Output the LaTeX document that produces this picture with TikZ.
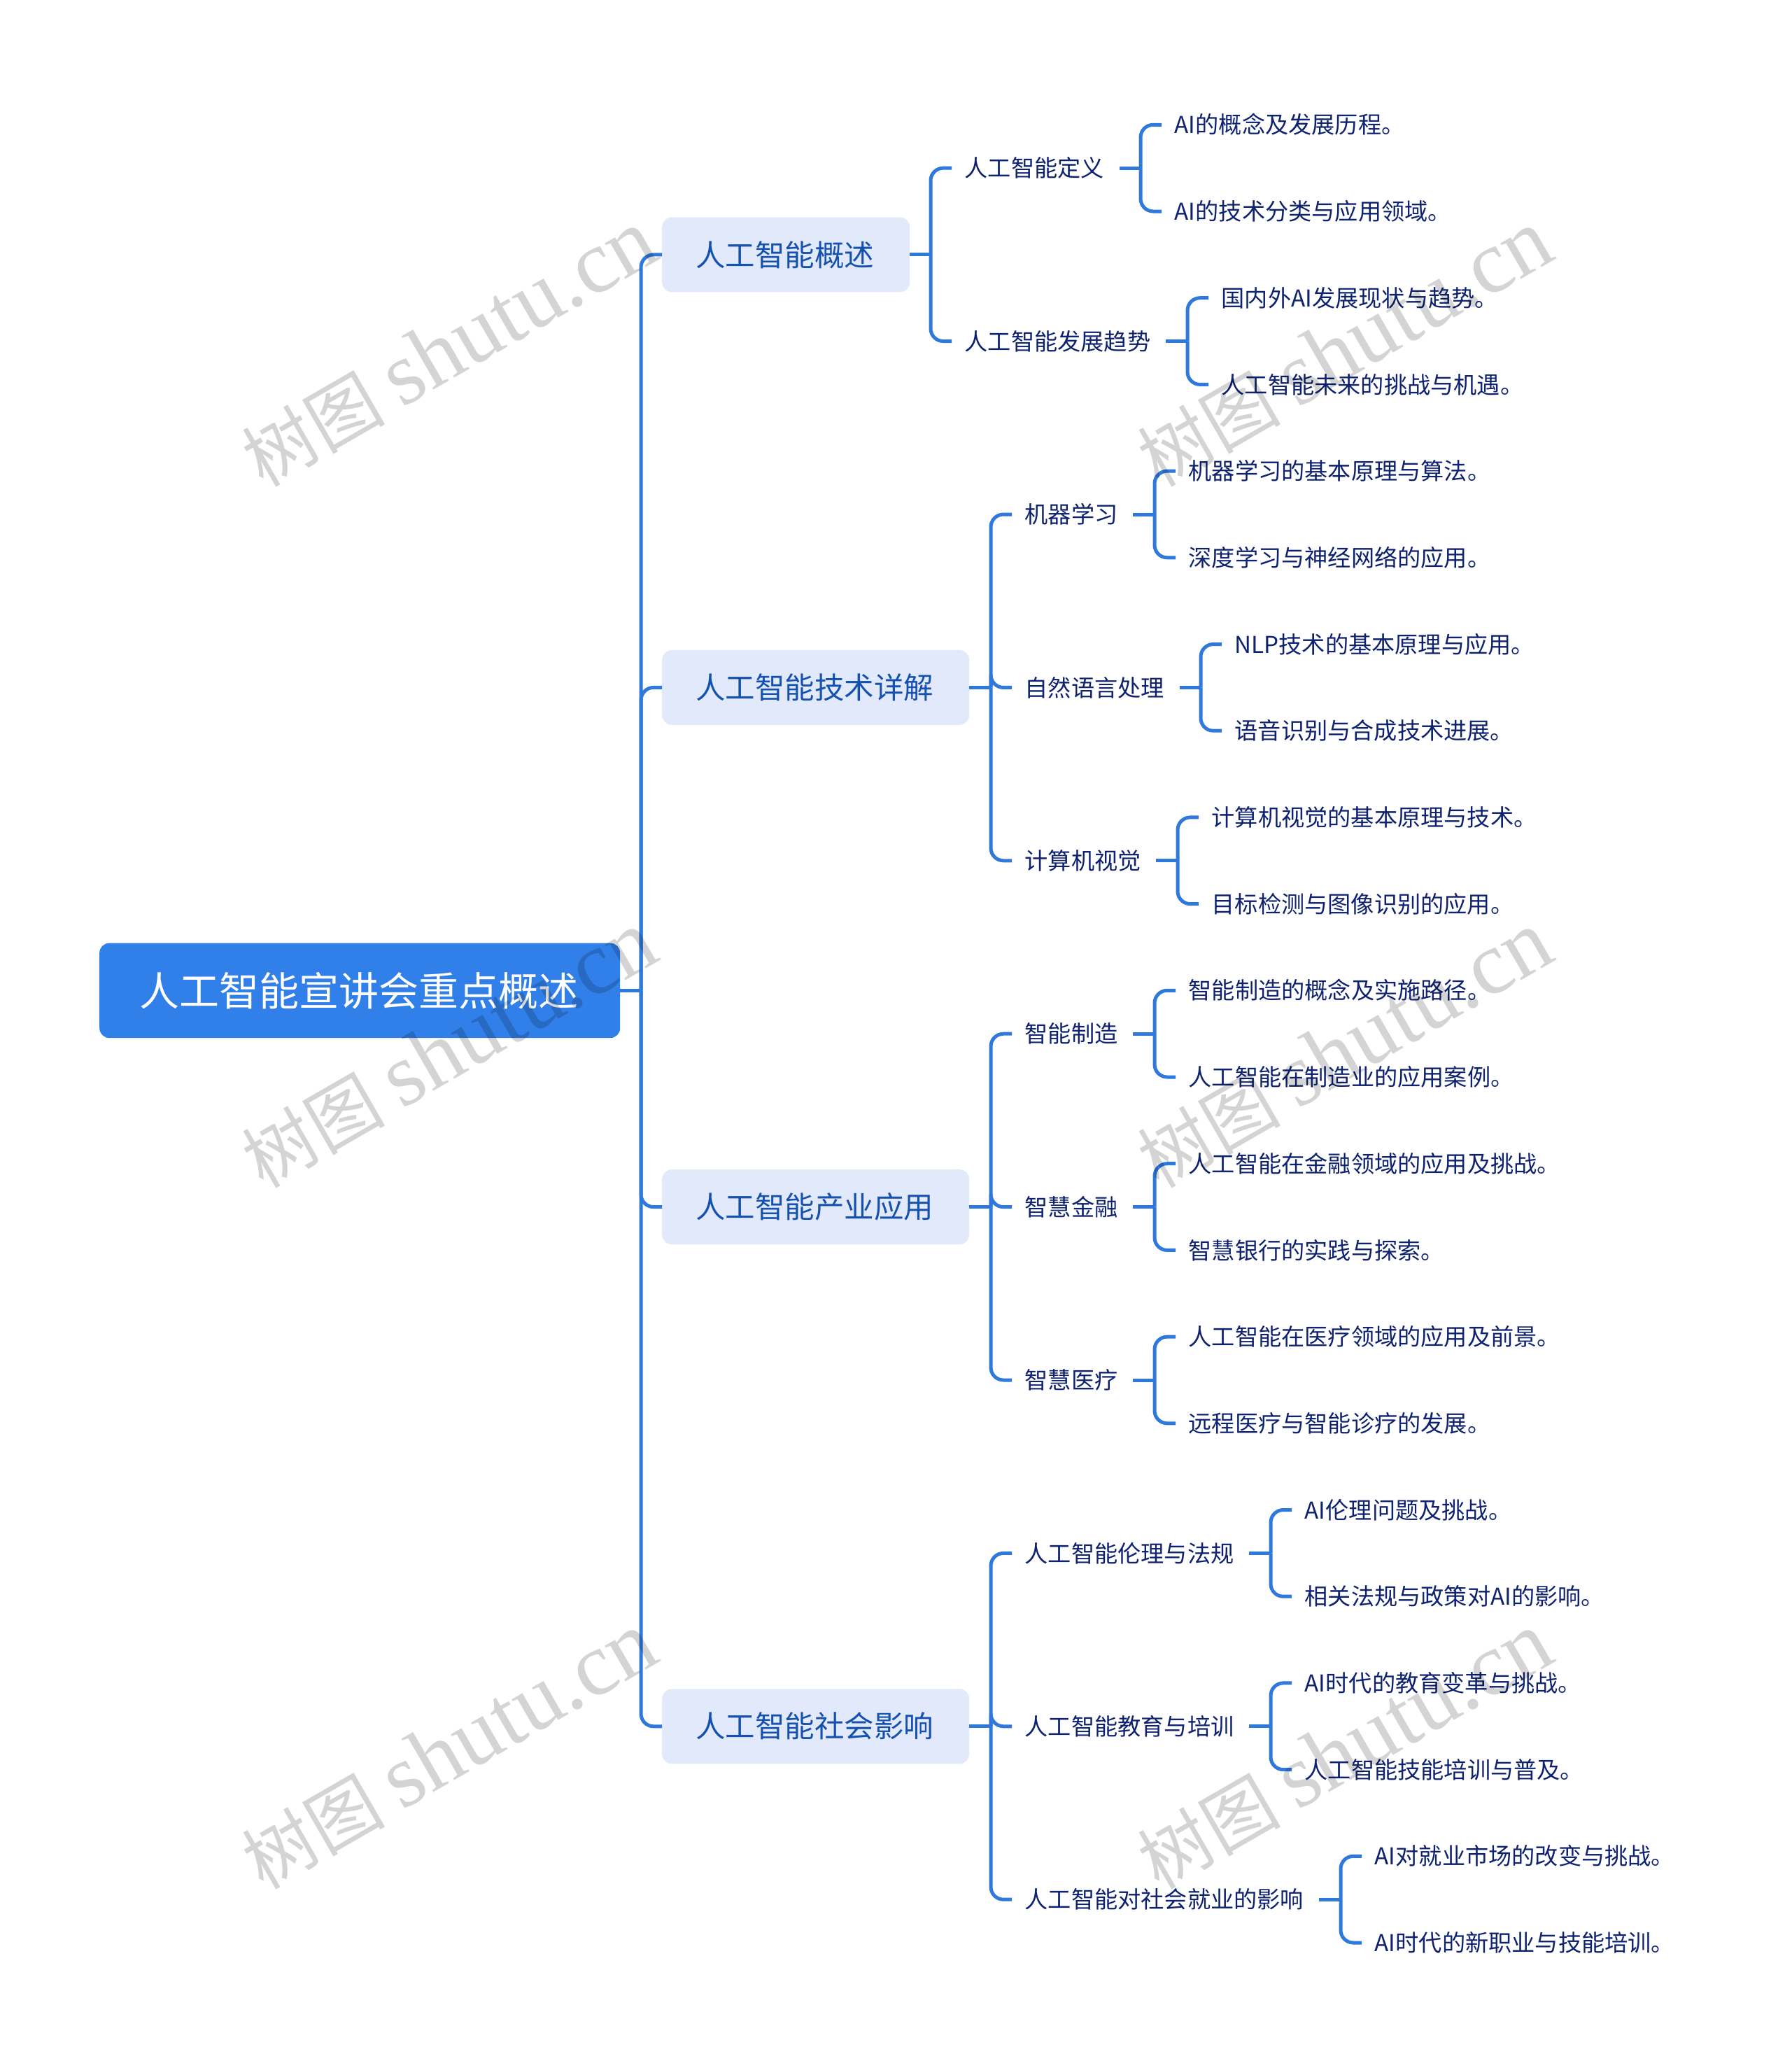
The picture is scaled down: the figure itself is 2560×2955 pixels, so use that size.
\documentclass[tikz,border=0pt]{standalone}
\usepackage{fontspec}
\setmainfont{Noto Sans CJK SC}
\newfontfamily\wmcjk{Noto Sans CJK SC}
\newfontfamily\wmlat{Liberation Serif}
\definecolor{linkc}{HTML}{2F78DC}
\definecolor{rootc}{HTML}{3180EA}
\definecolor{boxc}{HTML}{E2E9FB}
\definecolor{onec}{HTML}{1552B0}
\definecolor{twoc}{HTML}{0E2270}
\tikzset{
  nudged/.style={execute at begin node={\hspace{-1.5pt}},execute at end node={\hspace{1.5pt}}},
  rootbox/.style={nudged,anchor=west,fill=rootc,text=white,rounded corners=14pt,inner xsep=58.5pt,inner ysep=0pt,minimum height=135.6pt,text height=50.2pt,text depth=6.8pt,font=\fontsize{57}{57}\selectfont},
  onebox/.style={nudged,anchor=west,fill=boxc,text=onec,rounded corners=14pt,inner xsep=49.5pt,inner ysep=0pt,minimum height=107pt,text height=37.4pt,text depth=5.1pt,font=\fontsize{42.5}{42.5}\selectfont},
  twotext/.style={nudged,anchor=west,text=twoc,inner xsep=20pt,inner ysep=0pt,text height=29.2pt,text depth=4pt,font=\fontsize{33.2}{33.2}\selectfont},
  linkline/.style={draw=linkc,line width=5pt},
  wmark/.style={anchor=base east,rotate=30,inner sep=0pt,text=black,text opacity=.17},
}
\newcommand{\lnk}[2]{%
  \draw[linkline] (#1.east) -- ([xshift=-30pt]#1.east -| #2.west);
  \draw[linkline,rounded corners=18pt] ([xshift=-30pt]#1.east -| #2.west) |- (#2.west);
}
\newcommand{\wmtext}{{\wmcjk\fontsize{102}{102}\selectfont 树图}\hspace{24pt}{\wmlat\fontsize{128}{128}\selectfont shutu.cn}}
\begin{document}
\begin{tikzpicture}[x=1pt,y=-1pt]
\useasboundingbox (0,0) rectangle (2560,2955);
\node[rootbox] (root) at (142,1415.35) {人工智能宣讲会重点概述};
\node[onebox] (a) at (946,363.9) {人工智能概述};
\node[onebox] (b) at (946,982.4) {人工智能技术详解};
\node[onebox] (c) at (946,1724.6) {人工智能产业应用};
\node[onebox] (d) at (946,2466.8) {人工智能社会影响};
\node[twotext] (a1) at (1360,240.15) {人工智能定义};
\node[twotext] (a2) at (1360,487.55) {人工智能发展趋势};
\node[twotext] (b1) at (1446,735) {机器学习};
\node[twotext] (b2) at (1446,982.4) {自然语言处理};
\node[twotext] (b3) at (1446,1229.8) {计算机视觉};
\node[twotext] (c1) at (1446,1477.2) {智能制造};
\node[twotext] (c2) at (1446,1724.6) {智慧金融};
\node[twotext] (c3) at (1446,1972) {智慧医疗};
\node[twotext] (d1) at (1446,2219.4) {人工智能伦理与法规};
\node[twotext] (d2) at (1446,2466.8) {人工智能教育与培训};
\node[twotext] (d3) at (1446,2714.2) {人工智能对社会就业的影响};
\node[twotext] (l0) at (1660,178.3) {AI的概念及发展历程。};
\node[twotext] (l1) at (1660,302) {AI的技术分类与应用领域。};
\node[twotext] (l2) at (1727,425.7) {国内外AI发展现状与趋势。};
\node[twotext] (l3) at (1727,549.4) {人工智能未来的挑战与机遇。};
\node[twotext] (l4) at (1680,673.1) {机器学习的基本原理与算法。};
\node[twotext] (l5) at (1680,796.8) {深度学习与神经网络的应用。};
\node[twotext] (l6) at (1746,920.5) {NLP技术的基本原理与应用。};
\node[twotext] (l7) at (1746,1044.2) {语音识别与合成技术进展。};
\node[twotext] (l8) at (1713,1167.9) {计算机视觉的基本原理与技术。};
\node[twotext] (l9) at (1713,1291.6) {目标检测与图像识别的应用。};
\node[twotext] (l10) at (1680,1415.3) {智能制造的概念及实施路径。};
\node[twotext] (l11) at (1680,1539) {人工智能在制造业的应用案例。};
\node[twotext] (l12) at (1680,1662.7) {人工智能在金融领域的应用及挑战。};
\node[twotext] (l13) at (1680,1786.4) {智慧银行的实践与探索。};
\node[twotext] (l14) at (1680,1910.1) {人工智能在医疗领域的应用及前景。};
\node[twotext] (l15) at (1680,2033.8) {远程医疗与智能诊疗的发展。};
\node[twotext] (l16) at (1846,2157.5) {AI伦理问题及挑战。};
\node[twotext] (l17) at (1846,2281.2) {相关法规与政策对AI的影响。};
\node[twotext] (l18) at (1846,2404.9) {AI时代的教育变革与挑战。};
\node[twotext] (l19) at (1846,2528.6) {人工智能技能培训与普及。};
\node[twotext] (l20) at (1946,2652.3) {AI对就业市场的改变与挑战。};
\node[twotext] (l21) at (1946,2776) {AI时代的新职业与技能培训。};
\foreach \p/\c in {root/a,root/b,root/c,root/d,a/a1,a/a2,b/b1,b/b2,b/b3,c/c1,c/c2,c/c3,d/d1,d/d2,d/d3,a1/l0,a1/l1,a2/l2,a2/l3,b1/l4,b1/l5,b2/l6,b2/l7,b3/l8,b3/l9,c1/l10,c1/l11,c2/l12,c2/l13,c3/l14,c3/l15,d1/l16,d1/l17,d2/l18,d2/l19,d3/l20,d3/l21}{\lnk{\p}{\c}}
\node[wmark] (w1) at (947,368) {\wmtext};
\node[wmark] (w2) at (947,1370) {\wmtext};
\node[wmark] (w3) at (947,2372) {\wmtext};
\node[wmark] (w4) at (2227,368) {\wmtext};
\node[wmark] (w5) at (2227,1370) {\wmtext};
\node[wmark] (w6) at (2227,2372) {\wmtext};
\end{tikzpicture}
\end{document}
